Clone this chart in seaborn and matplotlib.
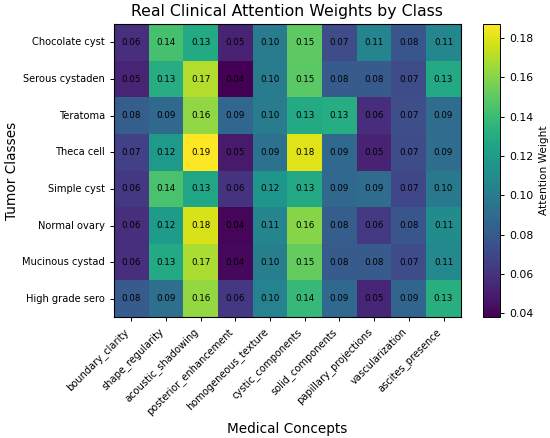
import numpy as np
import pandas as pd
import matplotlib
matplotlib.use("Agg")
import matplotlib.pyplot as plt
import seaborn as sns

CLASSES = ["Chocolate cyst", "Serous cystaden", "Teratoma", "Theca cell",
           "Simple cyst", "Normal ovary", "Mucinous cystad", "High grade sero"]
CONCEPTS = ["boundary_clarity", "shape_regularity", "acoustic_shadowing",
            "posterior_enhancement", "homogeneous_texture", "cystic_components",
            "solid_components", "papillary_projections", "vascularization",
            "ascites_presence"]

chocolate = [0.058, 0.143, 0.128, 0.052, 0.100, 0.150, 0.072, 0.106, 0.078, 0.107]
serous = [0.053, 0.131, 0.170, 0.038, 0.100, 0.149, 0.080, 0.080, 0.072, 0.128]
teratoma = [0.082, 0.088, 0.162, 0.087, 0.100, 0.128, 0.130, 0.057, 0.073, 0.090]
theca = [0.066, 0.118, 0.187, 0.048, 0.094, 0.180, 0.088, 0.052, 0.072, 0.090]
simple = [0.062, 0.144, 0.126, 0.060, 0.116, 0.128, 0.088, 0.090, 0.070, 0.098]
normal = [0.058, 0.120, 0.178, 0.040, 0.106, 0.160, 0.082, 0.063, 0.078, 0.110]
mucinous = [0.058, 0.128, 0.168, 0.041, 0.102, 0.152, 0.080, 0.080, 0.072, 0.108]
high_grade = [0.080, 0.092, 0.163, 0.062, 0.104, 0.138, 0.088, 0.054, 0.086, 0.132]

df = pd.DataFrame([chocolate, serous, teratoma, theca, simple, normal, mucinous, high_grade],
                  index=CLASSES, columns=CONCEPTS)

fig = plt.figure(figsize=(5.5, 4.38), dpi=100)
ax = fig.add_axes([0.207, 0.276, 0.631, 0.669])
cax = fig.add_axes([0.878, 0.276, 0.031, 0.669])

sns.heatmap(df, ax=ax, cbar_ax=cax, cmap="viridis", annot=True, fmt=".2f",
            annot_kws={"fontsize": 6.3, "color": "black"},
            linewidths=0, cbar_kws={"label": "Attention Weight"})

for s in ax.spines.values():
    s.set_visible(True)
    s.set_linewidth(0.8)
cax.tick_params(labelsize=7.8, length=3, width=0.7)
cax.yaxis.label.set_size(7.6)
cbar = ax.collections[0].colorbar
cbar.outline.set_visible(True)
cbar.outline.set_linewidth(0.7)

ax.tick_params(axis="both", length=3, width=0.7, labelsize=7.1)
ax.set_xticklabels(CONCEPTS, rotation=45, ha="right")
ax.set_yticklabels(CLASSES, rotation=0)
ax.set_xlabel("Medical Concepts", fontsize=9.8)
ax.set_ylabel("Tumor Classes", fontsize=9.8, labelpad=2)
ax.set_title("Real Clinical Attention Weights by Class", fontsize=11.3)

fig.savefig("out.png", dpi=100)
